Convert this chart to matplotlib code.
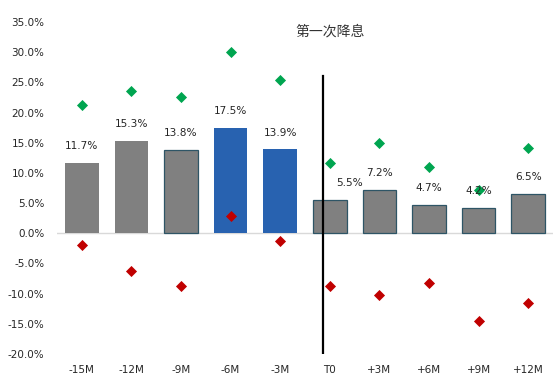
import matplotlib
matplotlib.use("Agg")
import matplotlib.pyplot as plt
from matplotlib.ticker import FuncFormatter

plt.rcParams['font.family'] = ['DejaVu Sans', 'Noto Sans CJK SC']

categories = ['-15M', '-12M', '-9M', '-6M', '-3M', 'T0', '+3M', '+6M', '+9M', '+12M']
bar_values = [11.7, 15.3, 13.8, 17.5, 13.9, 5.5, 7.2, 4.7, 4.2, 6.5]
high_values = [21.3, 23.6, 22.6, 30.1, 25.4, 11.7, 15.0, 10.9, 7.1, 14.1]
low_values = [-1.9, -6.2, -8.8, 2.8, -1.2, -8.8, -10.2, -8.3, -14.5, -11.5]
highlight = ['-6M', '-3M']
edged = ['-9M', 'T0', '+3M', '+6M', '+9M', '+12M']
title_text = '第一次降息'

GRAY = '#808080'
BLUE = '#2862B0'
EDGE = '#2E5566'
GREEN = '#00A550'
RED = '#C00000'

fig = plt.figure(figsize=(5.6, 3.84), dpi=100)
ax = fig.add_axes([57/560, 30/384, 496/560, 332/384])

x = list(range(len(categories)))
colors = [BLUE if c in highlight else GRAY for c in categories]
edges = [EDGE if c in edged else 'none' for c in categories]
ax.bar(x, bar_values, width=0.68, color=colors, edgecolor=edges, linewidth=0.9, zorder=2)

ax.scatter(x, high_values, marker='D', s=32, color=GREEN, zorder=3, linewidths=0)
ax.scatter(x, low_values, marker='D', s=32, color=RED, zorder=3, linewidths=0)

for i, v in enumerate(bar_values):
    dx = 14 if categories[i] == 'T0' else 0
    ax.annotate(f'{v:.1f}%', (i, v), xytext=(dx, 12), textcoords='offset points',
                ha='center', va='center', fontsize=7.6, color='#262626', zorder=4)

ax.axhline(0, color='#D9D9D9', linewidth=1.0, zorder=1)
ax.plot([4.87, 4.87], [-20, 26], color='black', linewidth=1.6, zorder=4)
ax.text(5.0, 33.4, title_text, ha='center', va='center', fontsize=10,
        color='#333333', family=['Noto Sans CJK SC', 'DejaVu Sans'])

ax.set_xlim(-0.5, len(categories) - 0.5)
ax.set_ylim(-20, 35)
ax.set_yticks(range(-20, 36, 5))
ax.yaxis.set_major_formatter(FuncFormatter(lambda v, p: f'{v:.1f}%'))
ax.set_xticks(x)
ax.set_xticklabels(categories)
ax.tick_params(axis='both', length=0, labelsize=7.5, colors='#262626')
ax.tick_params(axis='y', pad=9)
ax.tick_params(axis='x', pad=8)
for s in ax.spines.values():
    s.set_visible(False)

fig.savefig('out.png', dpi=100)
